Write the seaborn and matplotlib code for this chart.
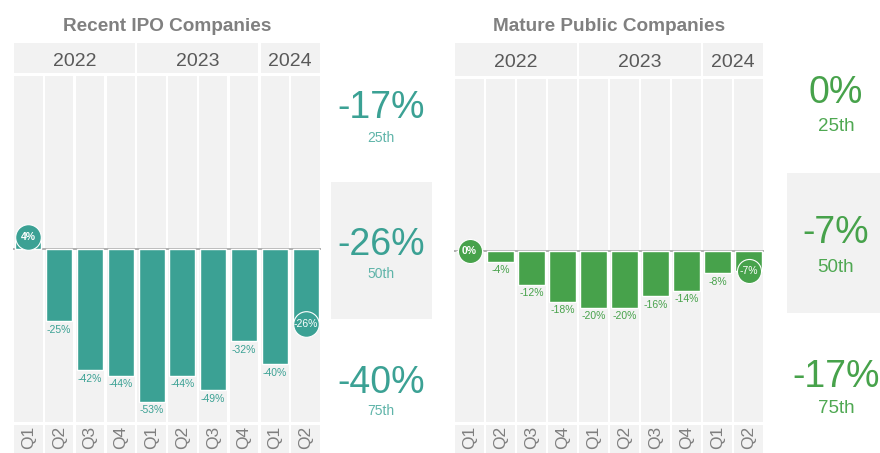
import matplotlib
matplotlib.use("Agg")
import matplotlib.pyplot as plt
import seaborn as sns
import pandas as pd
from matplotlib.patches import Rectangle
from matplotlib.transforms import blended_transform_factory

# ---------------- data ----------------
quarters = ["Q1", "Q2", "Q3", "Q4", "Q1", "Q2", "Q3", "Q4", "Q1", "Q2"]
period_years = ["2022"] * 4 + ["2023"] * 4 + ["2024"] * 2
years = ["2022", "2023", "2024"]
ipo_values = [4, -25, -42, -44, -53, -44, -49, -32, -40, -26]
mature_values = [0, -4, -12, -18, -20, -20, -16, -14, -8, -7]
percentile_labels = ["25th", "50th", "75th"]
ipo_percentiles = ["-17%", "-26%", "-40%"]
mature_percentiles = ["0%", "-7%", "-17%"]
titles = ["Recent IPO Companies", "Mature Public Companies"]

# ---------------- style ----------------
sns.set_style("white")
plt.rcParams["font.family"] = ["Liberation Sans", "DejaVu Sans"]

TEAL = "#3ba194"
TEAL_LIGHT = "#5fb4a9"
GREEN = "#47a24b"
GREEN_LIGHT = "#4fa852"
BG = "#f2f2f2"
W, H = 880, 453

fig = plt.figure(figsize=(W / 100, H / 100), dpi=100)
fig.patch.set_facecolor("white")


def fx(px):
    return px / W


def fy(py):
    return 1 - py / H


periods = [f"{y} {q}" for y, q in zip(period_years, quarters)]


def draw_panel(ax_px, header_px, tick_px, values, color, title, title_x,
               year_base, circle_size):
    x0, y0, x1, y1 = ax_px
    ax = fig.add_axes([fx(x0), fy(y1), (x1 - x0) / W, (y1 - y0) / H])
    ax.set_facecolor("none")
    df = pd.DataFrame({"period": periods, "value": values})
    sns.barplot(data=df, x="period", y="value", color=color, saturation=1,
                width=0.85, errorbar=None, ax=ax, zorder=3)
    ax.set_xlim(-0.5, len(values) - 0.5)
    ax.set_ylim(-60, 60)
    for i in range(len(values)):
        ax.axvspan(i - 0.46, i + 0.46, color=BG, lw=0, zorder=0)
    ax.axhline(0, color="#a9a9a9", lw=1.3, zorder=2)
    for s in ax.spines.values():
        s.set_visible(False)
    ax.set_yticks([])
    ax.set_ylabel("")
    ax.set_xlabel("")
    ax.set_xticks(range(len(values)))
    ax.set_xticklabels(quarters, rotation=90, fontsize=12.5, color="#7f7f7f")
    ax.tick_params(axis="x", length=0, pad=3)

    trans = blended_transform_factory(ax.transData, fig.transFigure)
    # year header cells
    start = 0
    for yr in years:
        n = period_years.count(yr)
        r = Rectangle((start - 0.46, fy(header_px[1])), n - 1 + 0.92,
                      (header_px[1] - header_px[0]) / H, transform=trans,
                      facecolor=BG, edgecolor="none", clip_on=False,
                      zorder=-1)
        fig.add_artist(r)
        ax.text(start + (n - 1) / 2, fy(year_base), yr, transform=trans,
                ha="center", va="baseline", fontsize=14, color="#595959",
                clip_on=False)
        start += n
    # tick label cells
    for i in range(len(values)):
        r = Rectangle((i - 0.46, fy(tick_px[1])), 0.92,
                      (tick_px[1] - tick_px[0]) / H, transform=trans,
                      facecolor=BG, edgecolor="none", clip_on=False,
                      zorder=-1)
        fig.add_artist(r)

    # value labels + circles
    last = len(values) - 1
    for i, v in enumerate(values):
        if i in (0, last):
            ax.scatter([i], [v], s=circle_size, color=color, edgecolor="white",
                       linewidth=0.8, zorder=5, clip_on=False)
            ax.text(i, v, f"{v}%", ha="center", va="center", color="white",
                    fontsize=7.5, fontweight="bold" if i == 0 else "normal",
                    zorder=6)
        else:
            ax.annotate(f"{v}%", (i, v), xytext=(0, -2.5),
                        textcoords="offset points", ha="center", va="top",
                        fontsize=7.5, color=color, zorder=4)

    fig.text(fx(title_x), fy(31), title, ha="center", va="baseline",
             fontsize=13.7, fontweight="bold", color="#808080")
    return ax


draw_panel((13, 76, 321, 422), (43, 73), (425, 453), ipo_values, TEAL,
           titles[0], 167, 66, 340)
draw_panel((454, 79, 764, 422), (43, 76), (425, 453), mature_values, GREEN,
           titles[1], 609, 67, 300)

# percentile boxes
fig.add_artist(Rectangle((fx(331), fy(319)), 101 / W, 137 / H,
                         transform=fig.transFigure, facecolor=BG,
                         edgecolor="none", zorder=-1))
fig.add_artist(Rectangle((fx(787), fy(313)), 93 / W, 140 / H,
                         transform=fig.transFigure, facecolor=BG,
                         edgecolor="none", zorder=-1))

left_big_base = [118, 255, 393]
left_small_base = [142, 278, 415]
right_big_base = [103, 243, 387]
right_small_base = [131, 272, 413]

for val, lab, bb, sb in zip(ipo_percentiles, percentile_labels,
                            left_big_base, left_small_base):
    fig.text(fx(381), fy(bb), val, ha="center", va="baseline", fontsize=27,
             color=TEAL)
    fig.text(fx(381), fy(sb), lab, ha="center", va="baseline", fontsize=10,
             color=TEAL_LIGHT)

for val, lab, bb, sb in zip(mature_percentiles, percentile_labels,
                            right_big_base, right_small_base):
    fig.text(fx(836), fy(bb), val, ha="center", va="baseline", fontsize=27,
             color=GREEN)
    fig.text(fx(836), fy(sb), lab, ha="center", va="baseline", fontsize=13.5,
             color=GREEN_LIGHT)

fig.savefig("out.png", dpi=100)
